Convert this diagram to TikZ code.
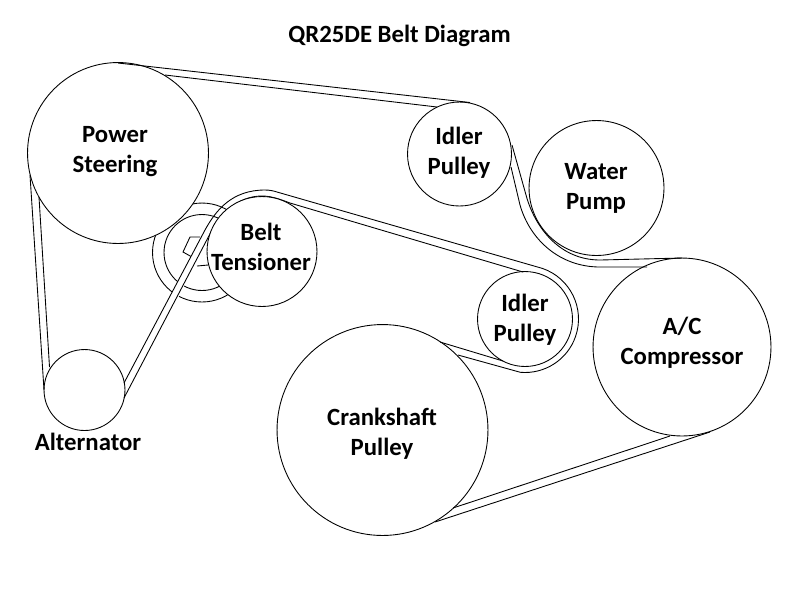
\documentclass[tikz,border=0pt]{standalone}
\usepackage{fontspec}
\setmainfont{Carlito}
\tikzset{
	pulley/.style={draw=black,fill=white,circle,line width=0.5pt,minimum size={#1*0.04cm}},
	belt/.style={draw=black,line width=0.5pt},
	tag/.style={align=center,font=\fontsize{14.1}{17}\selectfont\bfseries}
}
\begin{document}
\begin{tikzpicture}[x=0.02cm,y=0.02cm]
	\tikzstyle{every node}+=[inner sep=0pt]
	\useasboundingbox (0,0) rectangle (800,-600);
	\fill [white] (0,0) rectangle (800,-600);
	% tensioner back plate
	\node (plateOuter) [pulley=49.5] at (202,-252.5) {};
	\node (plateInner) [pulley=38] at (202,-252.5) {};
	\draw [belt] (200,-237) -- (190,-237) -- (183,-252) -- (192,-257);
	\draw [belt] (197,-266) -- (208,-265);
	\node (steerBody) [pulley=90.5] at (118,-153) {};
	\node (altBody) [pulley=40.5] at (84.5,-390) {};
	\node (crankBody) [pulley=105.5] at (382.5,-430) {};
	\node (idlerTopBody) [pulley=52] at (459.5,-154) {};
	\node (pumpBody) [pulley=67.5] at (596.5,-188) {};
	\node (idlerLowBody) [pulley=47.5] at (525,-319) {};
	\node (acBody) [pulley=89] at (682,-347) {};
	% belt
	\fill [white] (150,-334) -- (205,-230) -- (212,-230) -- (160,-334) -- cycle;
	\draw [belt] (118,-63) -- (470,-102.5);
	\draw [belt] (165,-75) -- (437,-107);
	\draw [belt] (30,-175) -- (44,-390);
	\draw [belt] (39,-197) -- (49.5,-367);
	\draw [belt] (124,-383) -- (205,-230) .. controls (216,-210) and (232,-190) .. (265,-190) .. controls (270,-190) and (274,-191) .. (277,-192) -- (542.4,-268.4) arc (71:-95:53.5) -- (458,-355);
	\draw [belt] (124,-398) -- (212,-230) .. controls (220,-214) and (238,-196) .. (262,-196) .. controls (272,-196) and (282,-200) .. (290,-203) -- (523,-272);
	\draw [belt] (440,-342) -- (503,-361);
	\draw [belt] (512,-145) -- (526,-195) .. controls (535,-228) and (560,-260) .. (600,-260) -- (682,-258);
	\draw [belt] (511,-167) -- (520,-205) .. controls (530,-240) and (560,-267) .. (600,-267) -- (647,-267);
	\draw [belt] (435,-522) -- (710,-432);
	\draw [belt] (453,-508) -- (670,-436);
	\node (tensionBody) [pulley=55] at (262,-251.5) {};
	% labels
	\node (title) [tag] at (399.5,-36) {QR25DE Belt Diagram};
	\node (steerText) [tag] at (115,-151.5) {Power\\Steering};
	\node (idlerTopText) [tag] at (459,-153) {Idler\\Pulley};
	\node (pumpText) [tag] at (596,-188) {Water\\Pump};
	\node (tensionText) [tag] at (261,-246.5) {Belt\\Tensioner};
	\node (idlerLowText) [tag] at (525,-320) {Idler\\Pulley};
	\node (acText) [tag] at (682,-343) {A/C\\Compressor};
	\node (crankText) [tag] at (382,-434) {Crankshaft\\Pulley};
	\node (altText) [tag] at (88,-442) {Alternator};
\end{tikzpicture}
\end{document}
